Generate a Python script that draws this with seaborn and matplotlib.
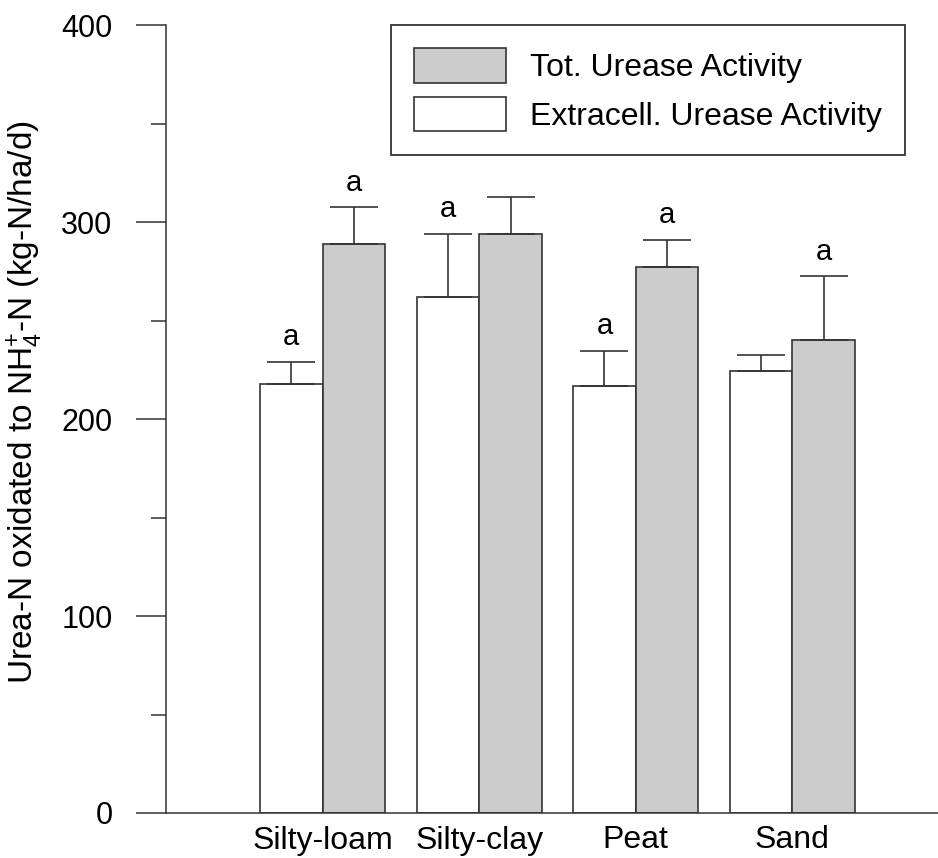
import matplotlib
matplotlib.use("Agg")
import matplotlib.pyplot as plt
import seaborn as sns
import pandas as pd
import numpy as np
from matplotlib.ticker import MultipleLocator

categories = ["Silty-loam", "Silty-clay", "Peat", "Sand"]
extracell = [218, 262, 217, 224.5]
extracell_err = [11, 32, 17.5, 8]
total = [289, 294, 277, 240]
total_err = [18.5, 18.5, 14, 32.5]
extracell_letters = ["a", "a", "a", ""]
total_letters = ["a", "", "a", "a"]
series_names = ["Extracell. Urease Activity", "Tot. Urease Activity"]

df = pd.DataFrame({
    "soil": categories * 2,
    "series": [series_names[0]] * 4 + [series_names[1]] * 4,
    "value": extracell + total,
})
errs = {series_names[0]: extracell_err, series_names[1]: total_err}
letters = {series_names[0]: extracell_letters, series_names[1]: total_letters}
vals = {series_names[0]: extracell, series_names[1]: total}

sns.set_style("ticks")
plt.rcParams["font.family"] = ["Liberation Sans", "DejaVu Sans"]
plt.rcParams["mathtext.fontset"] = "custom"
plt.rcParams["mathtext.rm"] = "Liberation Sans"
plt.rcParams["mathtext.it"] = "Liberation Sans:italic"
plt.rcParams["text.color"] = "black"
plt.rcParams["axes.labelcolor"] = "black"
plt.rcParams["xtick.color"] = "black"
plt.rcParams["ytick.color"] = "black"

edge = "#333333"
fig = plt.figure(figsize=(9.38, 8.58), dpi=100)
ax = fig.add_axes([166 / 938, 1 - 813 / 858, 1 - 166 / 938, (813 - 25) / 858])

sns.barplot(data=df, x="soil", y="value", hue="series", order=categories,
            hue_order=series_names, palette=["white", "#CCCCCC"],
            edgecolor=edge, linewidth=1.2, width=0.8, errorbar=None,
            saturation=1, ax=ax)

# error bars (upper only) and letters, positioned from the bar patches
for cont, name in zip(ax.containers, series_names):
    xs = [p.get_x() + p.get_width() / 2 for p in cont.patches]
    ys = vals[name]
    e = errs[name]
    ax.errorbar(xs, ys, yerr=[np.zeros(len(e)), e], fmt="none", ecolor=edge,
                elinewidth=1.2, capsize=17, capthick=1.2, zorder=1)
    for x, y, ee, lab in zip(xs, ys, e, letters[name]):
        if lab:
            ax.annotate(lab, (x, y + ee), xytext=(0, 12), textcoords="offset points",
                        ha="center", va="baseline", fontsize=21, color="black")

ax.set_ylim(0, 400)
ax.set_xlim(-1, 3.93)
ax.yaxis.set_major_locator(MultipleLocator(100))
ax.yaxis.set_minor_locator(MultipleLocator(50))
ax.tick_params(axis="y", which="major", length=21.5, width=1.1, color=edge,
               labelsize=22, pad=17, direction="out", labelcolor="black")
ax.tick_params(axis="y", which="minor", length=10.8, width=1.1, color=edge, direction="out")
ax.tick_params(axis="x", length=0, labelsize=23, pad=9, labelcolor="black")
for s in ["top", "right"]:
    ax.spines[s].set_visible(False)
for s in ["left", "bottom"]:
    ax.spines[s].set_linewidth(1.1)
    ax.spines[s].set_color(edge)
ax.set_xlabel("")
ax.set_ylabel(r"Urea-N oxidated to NH$_4^{+}$-N (kg-N/ha/d)", fontsize=24, color="black")
ax.yaxis.set_label_coords(-0.157, 0.5216)

handles, labels = ax.get_legend_handles_labels()
leg = ax.legend(handles[::-1], labels[::-1], loc="upper left",
                bbox_to_anchor=(391 / 938, 1 - 25 / 858), bbox_transform=fig.transFigure,
                borderaxespad=0, fontsize=23, frameon=True, fancybox=False,
                framealpha=1, edgecolor=edge, handlelength=2.88, handleheight=1.3,
                handletextpad=0.75, borderpad=0.72, labelspacing=0.42)
leg.get_frame().set_linewidth(1.3)
for t in leg.get_texts():
    t.set_color("black")

fig.savefig("out.png", dpi=100)
